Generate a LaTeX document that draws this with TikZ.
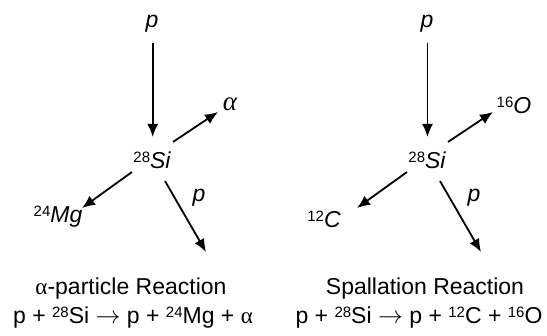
\documentclass[tikz,border=0pt]{standalone}
\usepackage{fontspec}
\setmainfont{Liberation Sans}
\newfontfamily\greekserif{Liberation Serif}
\usetikzlibrary{arrows.meta}
\newcommand{\isolab}[1]{\raisebox{6pt}{\fontsize{15}{15}\selectfont\upshape #1}}
\newcommand{\isoeq}[1]{\raisebox{6.5pt}{\fontsize{15}{15}\selectfont #1}}
\tikzset{
  lab/.style={inner sep=0pt, font=\fontsize{23}{23}\selectfont\itshape},
  captext/.style={inner sep=0pt, anchor=base, font=\fontsize{23}{23}\selectfont},
  arr/.style={line width=1.8pt, -{Latex[length=13pt,width=11pt]}},
}
\begin{document}
\begin{tikzpicture}[x=1pt,y=-1pt]
\fill[white] (0,0) rectangle (547,336);
\useasboundingbox (0,0) rectangle (547,336);
% left diagram
\node[lab] (pinL) at (152,24) {p};
\node[lab] (siL) at (152,160) {\isolab{28}Si};
\node[lab, font=\fontsize{27}{27}\selectfont\greekserif\itshape] (alL) at (230,104) {α};
\node[lab] (mgL) at (58,217) {\isolab{24}Mg};
\node[lab] (poutL) at (199,198) {p};
\coordinate (a1) at (152.7,43);  \coordinate (a2) at (152.7,137);
\coordinate (b1) at (173,142);   \coordinate (b2) at (218,112);
\coordinate (c1) at (132,172);   \coordinate (c2) at (82,208);
\coordinate (d1) at (165,181);   \coordinate (d2) at (206,252);
\draw[arr] (a1) -- (a2);
\draw[arr] (b1) -- (b2);
\draw[arr] (c1) -- (c2);
\draw[arr] (d1) -- (d2);
% right diagram
\node[lab] (pinR) at (427,24) {p};
\node[lab] (siR) at (427,160) {\isolab{28}Si};
\node[lab] (oR) at (514,105) {\isolab{16}O};
\node[lab] (cR) at (324,219) {\isolab{12}C};
\node[lab] (poutR) at (474,198) {p};
\coordinate (e1) at (427.5,43);  \coordinate (e2) at (427.5,137);
\coordinate (f1) at (448,142);   \coordinate (f2) at (493,112);
\coordinate (g1) at (407,172);   \coordinate (g2) at (357,208);
\coordinate (h1) at (440,181);   \coordinate (h2) at (481,252);
\draw[arr] (e1) -- (e2);
\draw[arr] (f1) -- (f2);
\draw[arr] (g1) -- (g2);
\draw[arr] (h1) -- (h2);
% captions
\node[captext] (tL) at (131,295) {{\greekserif α}-particle Reaction};
\node[captext] (tR) at (425,295) {Spallation Reaction};
\node[captext] (eqL) at (133,324) {p + \isoeq{28}Si $\rightarrow$ p + \isoeq{24}Mg + {\greekserif α}};
\node[captext] (eqR) at (419,324) {p + \isoeq{28}Si $\rightarrow$ p + \isoeq{12}C + \isoeq{16}O};
\end{tikzpicture}
\end{document}
